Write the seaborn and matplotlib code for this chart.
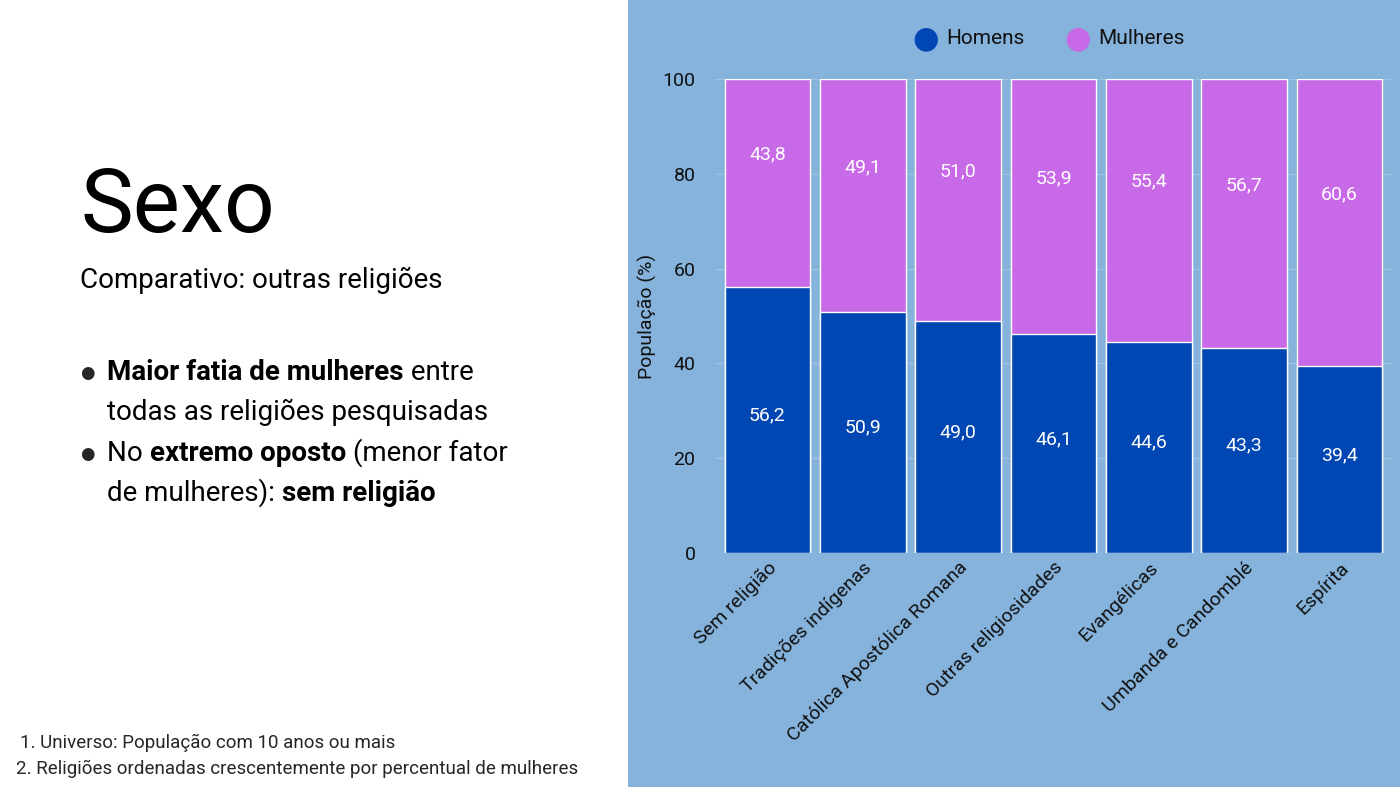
import matplotlib
matplotlib.use("Agg")
import matplotlib.pyplot as plt
import seaborn as sns
import pandas as pd
import numpy as np

categorias = ["Sem religião", "Tradições indígenas", "Católica Apostólica Romana",
              "Outras religiosidades", "Evangélicas", "Umbanda e Candomblé", "Espírita"]
homens = [56.2, 50.9, 49.0, 46.1, 44.6, 43.3, 39.4]
mulheres = [43.8, 49.1, 51.0, 53.9, 55.4, 56.7, 60.6]

sns.set_theme(style="white")
plt.rcParams['font.family'] = ['Roboto', 'DejaVu Sans']

C_H = "#0047b3"
C_M = "#c86ae8"
BG = "#85b3dc"

fig = plt.figure(figsize=(14, 7.87), dpi=100)
fig.patch.set_facecolor("white")
bgax = fig.add_axes([628/1400, 0, 1 - 628/1400, 1], zorder=-5)
bgax.set_facecolor(BG)
bgax.set_xticks([]); bgax.set_yticks([])
for s in bgax.spines.values():
    s.set_visible(False)

ax = fig.add_axes([715/1400, 1 - 553/787, (1392 - 715)/1400, (553 - 79)/787], zorder=1)
ax.set_facecolor("none")
df = pd.DataFrame({"cat": categorias, "h": homens, "total": [h + m for h, m in zip(homens, mulheres)]})
sns.barplot(data=df, x="cat", y="total", color=C_M, saturation=1, width=0.9, ax=ax, zorder=2)
sns.barplot(data=df, x="cat", y="h", color=C_H, saturation=1, width=0.9, ax=ax, zorder=3)
for i, (h, m) in enumerate(zip(homens, mulheres)):
    ax.text(i, h / 2 + 1, f"{h:.1f}".replace(".", ","), ha="center", va="center", color="white", fontsize=14, zorder=5)
    ax.text(i, h + m / 2 + 6, f"{m:.1f}".replace(".", ","), ha="center", va="center", color="white", fontsize=14, zorder=5)
ax.set_ylim(0, 100)
ax.set_xlim(-0.55, 6.55)
ax.set_yticks([0, 20, 40, 60, 80, 100])
ax.yaxis.grid(True, color="#9cc2e4", lw=1, zorder=0)
ax.set_axisbelow(True)
for s in ax.spines.values():
    s.set_visible(False)
ax.tick_params(axis="y", labelsize=14, colors="#111111", length=0, pad=14)
ax.tick_params(axis="x", labelsize=14, colors="#111111", length=0, pad=4)
plt.setp(ax.get_xticklabels(), rotation=45, ha="right", rotation_mode="anchor")
ax.set_xlabel("")
ax.set_ylabel("População (%)", fontsize=14, color="#111111", labelpad=4)

# legend
fig.text(926/1400, 1 - 39/787, "●", color=C_H, fontsize=22, ha="center", va="center")
fig.text(946/1400, 1 - 39/787, "Homens", color="#111111", fontsize=15, ha="left", va="center")
fig.text(1078/1400, 1 - 39/787, "●", color=C_M, fontsize=22, ha="center", va="center")
fig.text(1098/1400, 1 - 39/787, "Mulheres", color="#111111", fontsize=15, ha="left", va="center")

# left text
fig.text(80/1400, 1 - 232/787, "Sexo", fontsize=64, color="black", ha="left", va="baseline")
fig.text(80/1400, 1 - 288/787, "Comparativo: outras religiões", fontsize=20, color="black", ha="left", va="baseline")

renderer = fig.canvas.get_renderer()
def runs(x, y, parts):
    for txt, bold in parts:
        t = fig.text(x / 1400, 1 - y / 787, txt, fontsize=20, color="black",
                     fontweight="bold" if bold else "normal", ha="left", va="baseline")
        bb = t.get_window_extent(renderer)
        x += bb.width

fig.text(80/1400, 1 - 378/787, "●", fontsize=12, ha="left", va="baseline")
runs(107, 380, [("Maior fatia de mulheres", True), (" entre", False)])
runs(107, 420, [("todas as religiões pesquisadas", False)])
fig.text(80/1400, 1 - 459/787, "●", fontsize=12, ha="left", va="baseline")
runs(107, 461, [("No ", False), ("extremo oposto", True), (" (menor fator", False)])
runs(107, 501, [("de mulheres): ", False), ("sem religião", True)])

fig.text(20/1400, 1 - 748/787, "1. Universo: População com 10 anos ou mais", fontsize=13.5, ha="left", va="baseline")
fig.text(16/1400, 1 - 774/787, "2. Religiões ordenadas crescentemente por percentual de mulheres", fontsize=13.5, ha="left", va="baseline")

fig.savefig("out.png", dpi=100, facecolor=fig.get_facecolor())
